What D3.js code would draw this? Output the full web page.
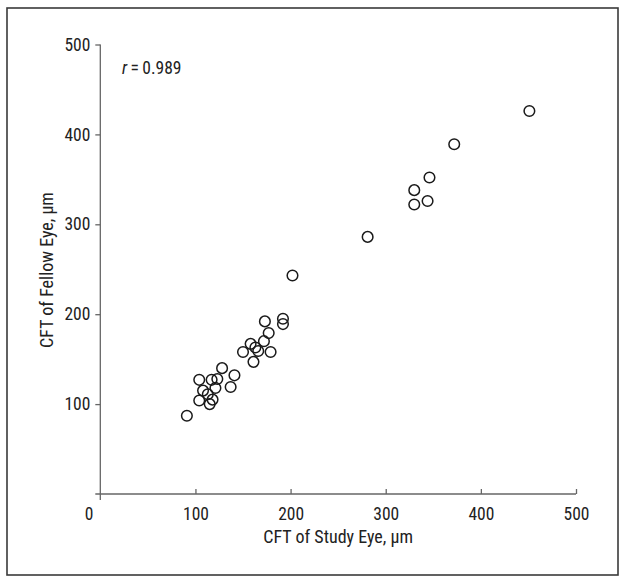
<!DOCTYPE html>
<html>
<head>
<meta charset="utf-8">
<script src="https://cdn.jsdelivr.net/npm/d3@7"></script>
<style>
  body { margin: 0; background: #fff; }
  text { font-family: "Liberation Sans Narrow", "Roboto Condensed", "Arial Narrow", "Liberation Sans", sans-serif; fill: #222; }
</style>
</head>
<body>
<div id="chart"></div>
<script>
let svgWidth = 629;
let svgHeight = 584;

// CFT values (study eye, fellow eye)
let studyEye = [91, 104, 104, 108, 113, 115, 118, 117, 123, 121, 128, 141, 137,
  173, 192, 192, 177, 172, 158, 150, 163, 166, 179, 161,
  202, 281, 330, 330, 344, 346, 372, 451];
let fellowEye = [87, 127, 104, 115, 111, 100, 105, 127, 128, 118, 140, 132, 119,
  192, 195, 189, 179, 170, 167, 158, 163, 159, 158, 147,
  243, 286, 338, 322, 326, 352, 389, 426];
let xTicks = [100, 200, 300, 400, 500];
let yTicks = [100, 200, 300, 400, 500];

let data = studyEye.map((d, i) => ({ study: d, fellow: fellowEye[i] }));

let svg = d3.select("#chart")
  .append("svg")
  .attr("width", svgWidth)
  .attr("height", svgHeight);

// outer frame
svg.append("rect")
  .attr("x", 7)
  .attr("y", 8)
  .attr("width", 611)
  .attr("height", 567)
  .attr("fill", "none")
  .attr("stroke", "#3a3a3a")
  .attr("stroke-width", 1.6);

let xScale = d3.scaleLinear().domain([0, 500]).range([100.3, 576]);
let yScale = d3.scaleLinear().domain([0, 500]).range([494, 44.5]);

// x axis, ticks pointing up
let xAxis = svg.append("g")
  .attr("transform", `translate(0, ${yScale(0)})`)
  .call(d3.axisBottom(xScale).tickValues(xTicks).tickSizeInner(-5).tickSizeOuter(0).tickPadding(14));
xAxis.select(".domain").remove();
xAxis.append("line")
  .attr("x1", xScale(0) - 5).attr("x2", xScale(500))
  .attr("stroke", "#666").attr("stroke-width", 1.3);
xAxis.selectAll(".tick line").attr("stroke", "#666").attr("stroke-width", 1.3);
xAxis.selectAll(".tick text").attr("font-size", 17.5).attr("dy", "0.71em");

// y axis
let yAxis = svg.append("g")
  .attr("transform", `translate(${xScale(0)}, 0)`)
  .call(d3.axisLeft(yScale).tickValues(yTicks).tickSizeInner(5).tickSizeOuter(0).tickPadding(5));
yAxis.select(".domain").remove();
yAxis.append("line")
  .attr("y1", yScale(500)).attr("y2", yScale(0) + 6)
  .attr("stroke", "#666").attr("stroke-width", 1.3);
yAxis.selectAll(".tick line").attr("stroke", "#666").attr("stroke-width", 1.3);
yAxis.selectAll(".tick text").attr("font-size", 17.5);

// shared zero label at the corner
svg.append("text")
  .attr("x", 89)
  .attr("y", yScale(0) + 14)
  .attr("dy", "0.71em")
  .attr("text-anchor", "middle")
  .attr("font-size", 17.5)
  .text("0");

// points
svg.selectAll(".pt")
  .data(data)
  .enter()
  .append("circle")
  .attr("class", "pt")
  .attr("cx", d => xScale(d.study))
  .attr("cy", d => yScale(d.fellow))
  .attr("r", 5.3)
  .attr("fill", "none")
  .attr("stroke", "#1a1a1a")
  .attr("stroke-width", 1.5);

// correlation label
let rLabel = svg.append("text")
  .attr("x", 122)
  .attr("y", 74)
  .attr("font-size", 17.5);
rLabel.append("tspan").attr("font-style", "italic").text("r");
rLabel.append("tspan").text("\u2009=\u20090.989");

// axis titles
svg.append("text")
  .attr("x", (xScale(0) + xScale(500)) / 2)
  .attr("y", 543)
  .attr("text-anchor", "middle")
  .attr("font-size", 18)
  .text("CFT of Study Eye, µm");

svg.append("text")
  .attr("transform", `translate(53, 270) rotate(-90)`)
  .attr("text-anchor", "middle")
  .attr("font-size", 18)
  .text("CFT of Fellow Eye, µm");
</script>
</body>
</html>
